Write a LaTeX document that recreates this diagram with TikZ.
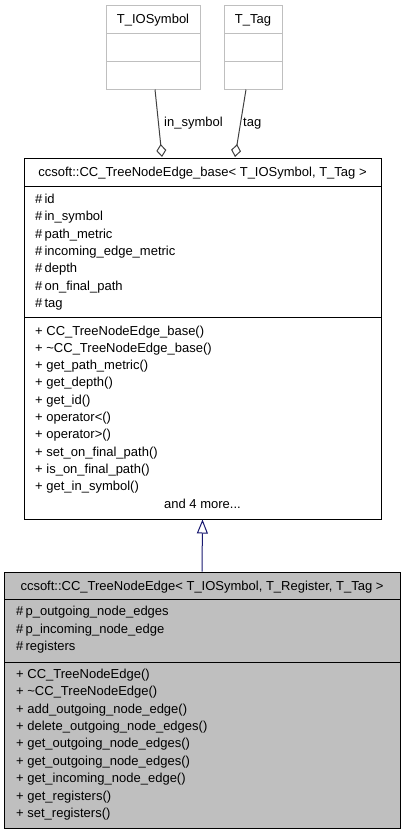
\documentclass[tikz,border=0pt]{standalone}
\usepackage{fontspec}
\setmainfont{Liberation Sans}
\usetikzlibrary{arrows.meta}
\definecolor{edgegray}{HTML}{404040}
\definecolor{classgray}{HTML}{BFBFBF}
\definecolor{tplframe}{HTML}{BFBFBF}
\definecolor{inheritblue}{HTML}{191970}

\begin{document}
\begin{tikzpicture}[x=1pt, y=-1pt,
	classbox/.style={draw, line width=1pt, inner sep=0pt},
	tplbox/.style={draw=tplframe, line width=1pt, inner sep=0pt},
	member/.style={anchor=base west, inner sep=0pt, font=\fontsize{13}{15}\selectfont},
	classname/.style={anchor=base, inner sep=0pt, font=\fontsize{13}{15}\selectfont},
	assoc/.style={draw=edgegray, line width=1pt, -{Diamond[open, length=13pt, width=10pt]}},
	inherits/.style={draw=inheritblue, line width=1pt, -{Triangle[open, length=14pt, width=11pt]}}]
	\useasboundingbox (0,0) rectangle (405,835);

	\node[tplbox, minimum width=94pt, minimum height=84pt] (sym) at (153,47) {};
	\node[tplbox, minimum width=58pt, minimum height=84pt] (tag) at (253,47) {};
	\draw[tplframe, line width=1pt] (106,33) -- (200,33) (106,61) -- (200,61);
	\draw[tplframe, line width=1pt] (224,33) -- (282,33) (224,61) -- (282,61);
	\node[classname] (symname) at (153,23.5) {T\_IOSymbol};
	\node[classname] (tagname) at (253,23.5) {T\_Tag};

	\node[classbox, minimum width=357pt, minimum height=361pt] (base) at (202.5,338.5) {};
	\draw[line width=1pt] (24,186) -- (381,186) (24,317) -- (381,317);
	\node[classname] (basename) at (202.5,176) {ccsoft::CC\_TreeNodeEdge\_base< T\_IOSymbol, T\_Tag >};
	\foreach \m [count=\i from 0] in {id, in\_symbol, path\_metric, incoming\_edge\_metric, depth, on\_final\_path, tag}
		\node[member] (battr\i) at (35,203.3+17.35*\i) {\#\,\m};
	\foreach \m [count=\i from 0] in {CC\_TreeNodeEdge\_base(), \textasciitilde CC\_TreeNodeEdge\_base(), get\_path\_metric(), get\_depth(), get\_id(), operator<(), operator>(), set\_on\_final\_path(), is\_on\_final\_path(), get\_in\_symbol()}
		\node[member] (bop\i) at (35,335+17.33*\i) {+ \m};
	\node[classname] (bmore) at (202.5,508.3) {and 4 more...};

	\node[classbox, fill=classgray, minimum width=396pt, minimum height=256pt] (edge) at (202,700) {};
	\draw[line width=1pt] (4,599) -- (400,599) (4,662) -- (400,662);
	\node[classname] (edgename) at (202,590.7) {ccsoft::CC\_TreeNodeEdge< T\_IOSymbol, T\_Register, T\_Tag >};
	\foreach \m [count=\i from 0] in {p\_outgoing\_node\_edges, p\_incoming\_node\_edge, registers}
		\node[member] (eattr\i) at (16,615.7+17.5*\i) {\#\,\m};
	\foreach \m [count=\i from 0] in {CC\_TreeNodeEdge(), \textasciitilde CC\_TreeNodeEdge(), add\_outgoing\_node\_edge(), delete\_outgoing\_node\_edges(), get\_outgoing\_node\_edges(), get\_outgoing\_node\_edges(), get\_incoming\_node\_edge(), get\_registers(), set\_registers()}
		\node[member] (eop\i) at (16,678.3+17.4*\i) {+ \m};

	\coordinate (symend) at (162,157);
	\coordinate (tagend) at (235,157);
	\draw[assoc] ([xshift=2pt]sym.south) -- (symend);
	\draw[assoc] ([xshift=-7pt]tag.south) -- (tagend);
	\node[member] (symlabel) at (164,126.7) {in\_symbol};
	\node[member] (taglabel) at (243,126.7) {tag};

	\draw[inherits] (edge.north) -- (base.south);
\end{tikzpicture}
\end{document}
